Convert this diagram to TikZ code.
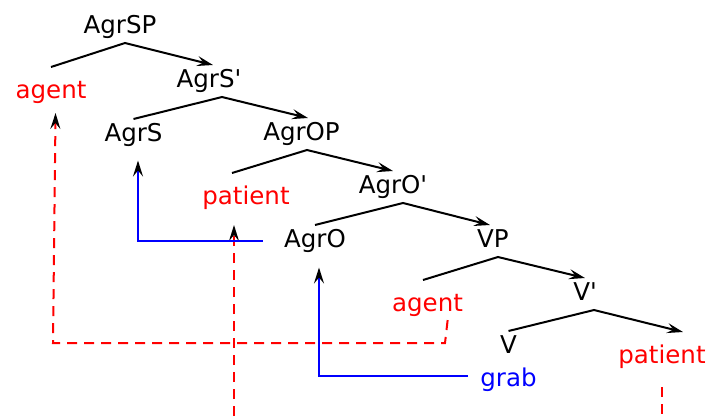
\documentclass[tikz,border=0pt]{standalone}
\usepackage{fontspec}
\setmainfont{DejaVu Sans}
\usetikzlibrary{arrows.meta}

\tikzset{
  cat/.style={font=\fontsize{24.5}{29}\selectfont, anchor=base, inner sep=0pt,
    text height=18pt, text depth=6pt, outer ysep=4pt},
  role/.style={cat, text=red, outer ysep=13pt},
  lex/.style={cat, text=blue},
  tip/.style={-{Stealth[color=black,length=16pt,width=10pt,inset=6pt]}},
  branch/.style={line width=2pt, tip},
  move/.style={red, line width=2pt, dash pattern=on 10pt off 7pt},
  trace/.style={blue, line width=2pt, tip}
}

\begin{document}
\begin{tikzpicture}[x=1pt,y=-1pt]
        \useasboundingbox (0,0) rectangle (710,416);

        % labels, placed on their baselines
        \node[cat] (sp) at (120,33) {AgrSP};
        \node[role] (agentA) at (51,98) {agent};
        \node[cat] (sbar) at (209,87) {AgrS\textquotesingle};
        \node[cat] (agrs) at (133.5,141) {AgrS};
        \node[cat] (op) at (301.5,140) {AgrOP};
        \node[role] (patientA) at (246,204) {patient};
        \node[cat] (obar) at (393,193) {AgrO\textquotesingle};
        \node[cat] (agro) at (315,247) {AgrO};
        \node[cat] (vp) at (493,247) {VP};
        \node[role] (agentB) at (427.5,311) {agent};
        \node[cat] (vbar) at (585,300) {V\textquotesingle};
        \node[cat] (v) at (508.5,353) {V};
        \node[role] (patientB) at (662,363) {patient};
        \node[lex] (grab) at (508.5,386) {grab};

        \coordinate (m-corner1) at (445,343);
        \coordinate (m-corner2) at (53,343);
        \coordinate (pa-foot) at (234,416);
        \coordinate (pb-foot) at (662,416);

        % branches
        \draw[branch] (agentA.north) -- ([xshift=5pt]sp.south) -- ([xshift=4pt]sbar.north);
        \draw[branch] (agrs.north) -- ([xshift=13pt]sbar.south) -- ([xshift=6.5pt]op.north);
        \draw[branch] ([xshift=-14pt]patientA.north) -- ([xshift=5.5pt]op.south) -- (obar.north);
        \draw[branch] (agro.north) -- ([xshift=10pt]obar.south) -- ([xshift=-3pt]vp.north);
        \draw[branch] ([xshift=-4.5pt]agentB.north) -- ([xshift=5pt]vp.south) -- (vbar.north);
        \draw[branch] (v.north) -- ([xshift=9pt]vbar.south) -- ([xshift=21pt]patientB.north);

        % movement
        \draw[move, tip, shorten <=-10pt, shorten >=-4pt] ([xshift=19pt]agentB.south) -- (m-corner1) -- (m-corner2) -- ([xshift=4.5pt]agentA.south);
        \draw[move, tip, shorten >=2pt] (pa-foot) -- ([xshift=-12pt]patientA.south);
        \draw[move, shorten <=5pt] (patientB.south) -- (pb-foot);
        \draw[trace, shorten <=12pt, shorten >=10.5pt] ([yshift=4pt]grab.west) -| ([xshift=4pt]agro.south);
        \draw[trace, shorten <=21pt, shorten >=9.5pt] (agro.west) -| ([xshift=4.5pt]agrs.south);

    \end{tikzpicture}
\end{document}
